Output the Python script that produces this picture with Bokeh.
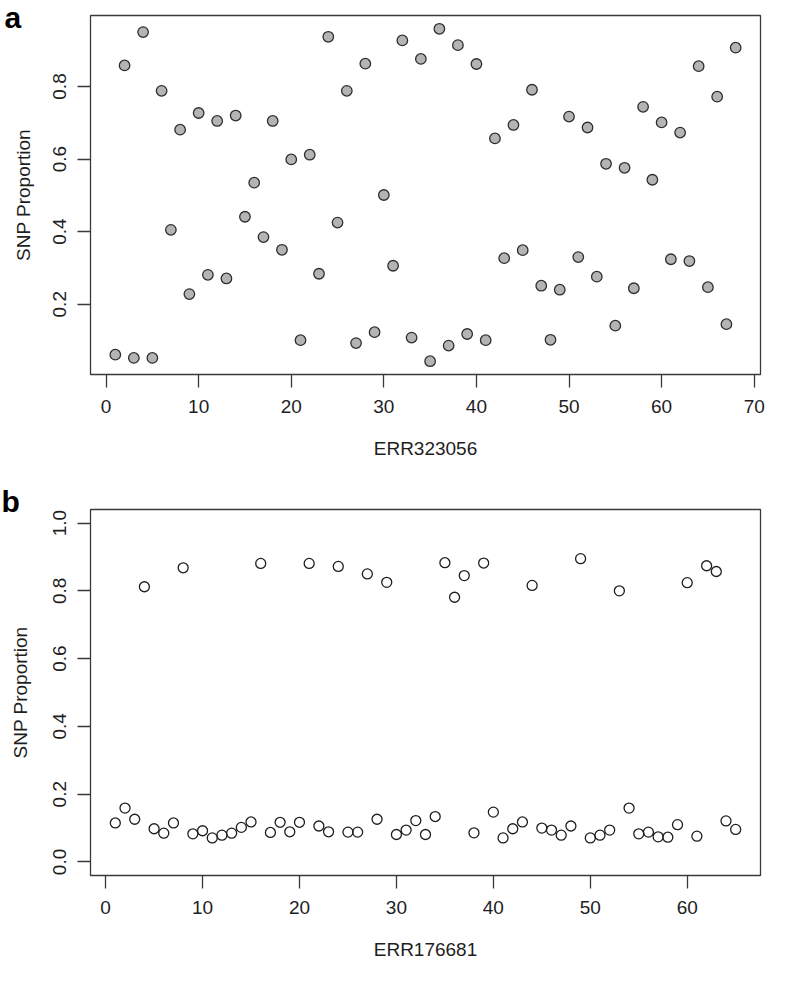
from bokeh.plotting import figure
from bokeh.layouts import column
from bokeh.models import Range1d, FixedTicker
from bokeh.embed import file_html
from bokeh.resources import INLINE

# ---- data ----
a_x = list(range(1, 69))
a_y = [0.061, 0.858, 0.052, 0.950, 0.052, 0.788, 0.405, 0.681, 0.228, 0.727,
       0.281, 0.705, 0.271, 0.720, 0.441, 0.535, 0.385, 0.705, 0.350, 0.599,
       0.101, 0.612, 0.284, 0.937, 0.425, 0.788, 0.093, 0.863, 0.123, 0.501,
       0.306, 0.927, 0.108, 0.876, 0.043, 0.959, 0.086, 0.914, 0.118, 0.862,
       0.101, 0.657, 0.327, 0.694, 0.349, 0.791, 0.251, 0.102, 0.240, 0.717,
       0.330, 0.687, 0.276, 0.587, 0.141, 0.576, 0.244, 0.744, 0.543, 0.701,
       0.324, 0.673, 0.319, 0.856, 0.247, 0.772, 0.145, 0.907]
b_x = list(range(1, 66))
b_y = [0.115, 0.159, 0.126, 0.812, 0.098, 0.085, 0.115, 0.868, 0.083, 0.092,
       0.071, 0.079, 0.085, 0.102, 0.118, 0.881, 0.087, 0.117, 0.089, 0.117,
       0.881, 0.106, 0.089, 0.872, 0.088, 0.088, 0.850, 0.126, 0.825, 0.081,
       0.094, 0.122, 0.081, 0.134, 0.883, 0.781, 0.845, 0.086, 0.882, 0.147,
       0.071, 0.098, 0.118, 0.816, 0.100, 0.094, 0.079, 0.106, 0.895, 0.071,
       0.079, 0.094, 0.800, 0.159, 0.083, 0.088, 0.074, 0.073, 0.110, 0.824,
       0.076, 0.874, 0.857, 0.121, 0.096]

a_xticks = [0, 10, 20, 30, 40, 50, 60, 70]
a_yticks = [0.2, 0.4, 0.6, 0.8]
a_ytick_labels = ["0.2", "0.4", "0.6", "0.8"]
b_xticks = [0, 10, 20, 30, 40, 50, 60]
b_yticks = [0.0, 0.2, 0.4, 0.6, 0.8, 1.0]
b_ytick_labels = ["0.0", "0.2", "0.4", "0.6", "0.8", "1.0"]

a_xlabel = "ERR323056"
b_xlabel = "ERR176681"
ylabel = "SNP Proportion"
panel_tags = ["a", "b"]

FONT = "Liberation Sans"
TXT = "#1e1e1e"
LINE = "#3a3a3a"


def r_range(vals, pad=0.04):
    lo, hi = min(vals), max(vals)
    d = (hi - lo) * pad
    return lo - d, hi + d


def style(p, xticks, yticks, ylabels, xlabel, ytitle_standoff):
    p.xgrid.visible = False
    p.ygrid.visible = False
    p.outline_line_color = LINE
    p.outline_line_width = 1.3
    p.background_fill_color = "white"
    p.border_fill_color = "white"
    p.xaxis.ticker = FixedTicker(ticks=xticks)
    p.yaxis.ticker = FixedTicker(ticks=yticks)
    p.yaxis.major_label_overrides = {t: l for t, l in zip(yticks, ylabels)}
    for ax in (p.xaxis[0], p.yaxis[0]):
        ax.axis_line_color = None
        ax.major_tick_line_color = LINE
        ax.major_tick_line_width = 1.3
        ax.major_tick_out = 13
        ax.major_tick_in = 0
        ax.minor_tick_line_color = None
        ax.major_label_text_font = FONT
        ax.major_label_text_font_size = "19px"
        ax.major_label_text_color = TXT
        ax.axis_label_text_font = FONT
        ax.axis_label_text_font_size = "19px"
        ax.axis_label_text_font_style = "normal"
        ax.axis_label_text_color = TXT
    p.xaxis.axis_label = xlabel
    p.yaxis.axis_label = ylabel
    p.xaxis.major_label_standoff = 12
    p.xaxis.axis_label_standoff = 22
    p.yaxis.major_label_orientation = "vertical"
    p.yaxis.major_label_standoff = 11
    p.yaxis.axis_label_standoff = ytitle_standoff


def tag(p, text, offset, standoff):
    p.title.text = text
    p.title.align = "left"
    p.title.offset = offset
    p.title.standoff = standoff
    p.title.vertical_align = "bottom"
    p.title.text_font = FONT
    p.title.text_font_size = "30px"
    p.title.text_font_style = "bold"
    p.title.text_color = "black"


# ---- panel a ----
ax0, ax1 = r_range(a_x)
ay0, ay1 = r_range(a_y)
pa = figure(width=778, height=475, output_backend="svg", toolbar_location=None,
            x_range=Range1d(ax0, ax1), y_range=Range1d(ay0, ay1),
            min_border_left=87, min_border_right=18, min_border_top=15,
            min_border_bottom=101)
style(pa, a_xticks, a_yticks, a_ytick_labels, a_xlabel, 17)
pa.scatter(a_x, a_y, size=10.5, marker="circle", fill_color="#b4b4b4",
           line_color="#2e2e2e", line_width=1.3)
tag(pa, panel_tags[0], -86, -36)

# ---- panel b ----
bx0, bx1 = r_range(b_x)
by0, by1 = -0.04, 1.04
pb = figure(width=778, height=491, output_backend="svg", toolbar_location=None,
            x_range=Range1d(bx0, bx1), y_range=Range1d(by0, by1),
            min_border_left=90, min_border_right=3, min_border_top=34,
            min_border_bottom=91)
style(pb, b_xticks, b_yticks, b_ytick_labels, b_xlabel, 20)
pb.scatter(b_x, b_y, size=10, marker="circle", fill_color=None,
           line_color="#1e1e1e", line_width=1.3)
tag(pb, panel_tags[1], -89, -17)

layout = column(pa, pb, spacing=0)
open("out.html", "w").write(file_html(layout, INLINE))
